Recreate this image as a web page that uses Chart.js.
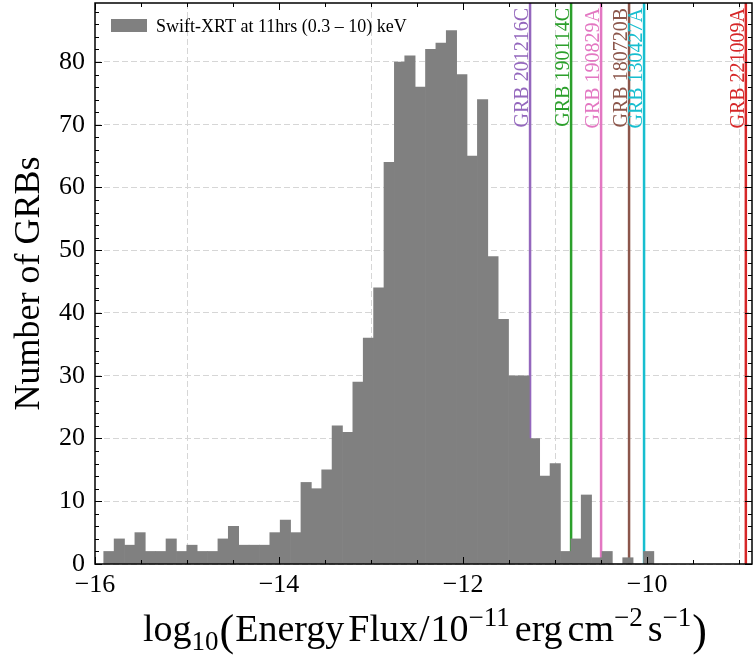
<!DOCTYPE html>
<html>
<head>
<meta charset="utf-8">
<script src="https://cdn.jsdelivr.net/npm/chart.js@4.4.0/dist/chart.umd.min.js"></script>
<style>
  html, body { margin: 0; padding: 0; background: #fff; }
  #wrap { width: 755px; height: 657px; }
</style>
</head>
<body>
<div id="wrap"><canvas id="fluxChart" width="755" height="657"></canvas></div>
<script>
// histogram bins (log10 flux), first edge and width
const binStart = -15.905;
const binWidth = 0.1128;
const counts = [2, 4, 3, 5, 2, 2, 4, 2, 3, 2,
                2, 4, 6, 3, 3, 3, 5, 7, 5, 13,
                12, 15, 22, 21, 29, 36, 44, 64, 80, 81,
                76, 82, 83, 85, 78, 65, 74, 49, 39, 30,
                30, 20, 14, 16, 2, 4, 11, 1, 2, 0,
                1, 0, 2];

// individual bursts marked with vertical lines
const grbNames = ["GRB 201216C", "GRB 190114C", "GRB 190829A", "GRB 180720B", "GRB 130427A", "GRB 221009A"];
const grbFlux = [-11.272, -10.826, -10.500, -10.196, -10.033, -8.927];
const grbColors = ["#9467bd", "#2ca02c", "#e377c2", "#8c564b", "#17becf", "#d62728"];

const xTickValues = [-16, -14, -12, -10];
const yTickValues = [0, 10, 20, 30, 40, 50, 60, 70, 80];
const xMin = -16, xMax = -8.86;
const yMin = 0, yMax = 89.4;

const legendLabel = "Swift-XRT at 11hrs (0.3 \u2013 10) keV";
const yTitle = "Number of GRBs";

const SERIF = '"Liberation Serif", "DejaVu Serif", serif';

function drawRich(ctx, parts, cx, baseline) {
    let total = 0;
    parts.forEach(p => {
        ctx.font = p.size + "px " + SERIF;
        p.w = ctx.measureText(p.text).width;
        total += p.w + (p.gap || 0);
    });
    let pos = cx - total / 2;
    ctx.textAlign = "left";
    ctx.textBaseline = "alphabetic";
    parts.forEach(p => {
        ctx.font = p.size + "px " + SERIF;
        ctx.fillText(p.text, pos, baseline + (p.dy || 0));
        pos += p.w + (p.gap || 0);
    });
}

const decorations = {
    id: "decorations",
    afterDatasetsDraw(chart) {
        const { ctx, chartArea: a, scales: { x } } = chart;
        // burst labels, rotated, left of each line
        ctx.save();
        ctx.font = "20px " + SERIF;
        grbNames.forEach((name, i) => {
            const px = x.getPixelForValue(grbFlux[i]);
            ctx.save();
            ctx.translate(px - 2, a.top + 5);
            ctx.rotate(-Math.PI / 2);
            ctx.fillStyle = grbColors[i];
            ctx.textAlign = "right";
            ctx.textBaseline = "alphabetic";
            ctx.fillText(name, 0, 0);
            ctx.restore();
        });
        ctx.restore();
    },
    afterDraw(chart) {
        const { ctx, chartArea: a, scales: { x, y } } = chart;
        ctx.save();
        ctx.strokeStyle = "#000";

        // inward ticks on all four sides
        ctx.lineWidth = 1;
        for (let v = -16; v <= xMax + 1e-9; v += 0.5) {
            const px = Math.round(x.getPixelForValue(v)) + 0.5;
            const len = (Math.abs(v % 2) < 1e-9) ? 7 : 4;
            ctx.beginPath();
            ctx.moveTo(px, a.bottom); ctx.lineTo(px, a.bottom - len);
            ctx.moveTo(px, a.top); ctx.lineTo(px, a.top + len);
            ctx.stroke();
        }
        for (let v = 0; v <= yMax + 1e-9; v += 2) {
            const py = Math.round(y.getPixelForValue(v)) + 0.5;
            const len = (v % 10 === 0) ? 7 : 4;
            ctx.beginPath();
            ctx.moveTo(a.left, py); ctx.lineTo(a.left + len, py);
            ctx.moveTo(a.right, py); ctx.lineTo(a.right - len, py);
            ctx.stroke();
        }

        // frame
        ctx.lineWidth = 1.5;
        ctx.strokeRect(a.left, a.top, a.right - a.left, a.bottom - a.top);

        // legend
        ctx.fillStyle = "#808080";
        ctx.fillRect(a.left + 16, a.top + 16, 36, 13);
        ctx.fillStyle = "#000";
        ctx.font = "18px " + SERIF;
        ctx.textAlign = "left";
        ctx.textBaseline = "alphabetic";
        ctx.fillText(legendLabel, a.left + 61, a.top + 29);

        // y title
        ctx.save();
        ctx.translate(30, (a.top + a.bottom) / 2);
        ctx.rotate(-Math.PI / 2);
        ctx.font = "36px " + SERIF;
        ctx.textAlign = "center";
        ctx.textBaseline = "middle";
        ctx.fillText(yTitle, 0, 0);
        ctx.restore();

        // x title with sub/superscripts
        drawRich(ctx, [
            { text: "log", size: 38 },
            { text: "10", size: 27, dy: 9, gap: 1 },
            { text: "(", size: 44, dy: 4, gap: 1 },
            { text: "Energy", size: 38, gap: 4 },
            { text: "Flux", size: 38, gap: 1 },
            { text: "/", size: 38, gap: 1 },
            { text: "10", size: 38 },
            { text: "\u221211", size: 27, dy: -15, gap: 5 },
            { text: "erg", size: 38, gap: 5 },
            { text: "cm", size: 38 },
            { text: "\u22122", size: 27, dy: -15, gap: 5 },
            { text: "s", size: 38 },
            { text: "\u22121", size: 27, dy: -15, gap: 1 },
            { text: ")", size: 44, dy: 4 }
        ], 425, 641);

        ctx.restore();
    }
};

const histData = counts.map((c, i) => ({ x: binStart + (i + 0.5) * binWidth, y: c }));

const lineSets = grbNames.map((name, i) => ({
    type: "line",
    label: name,
    data: [{ x: grbFlux[i], y: yMin }, { x: grbFlux[i], y: yMax }],
    borderColor: grbColors[i],
    borderWidth: 2.5,
    pointRadius: 0,
    fill: false
}));

new Chart(document.getElementById("fluxChart").getContext("2d"), {
    type: "bar",
    data: {
        datasets: [{
            type: "bar",
            label: legendLabel,
            data: histData,
            backgroundColor: "#808080",
            borderWidth: 0,
            barPercentage: 1,
            categoryPercentage: 1,
            grouped: false
        }, ...lineSets]
    },
    options: {
        responsive: false,
        animation: false,
        layout: { padding: { top: 3, right: 3, left: 0, bottom: 0 } },
        plugins: {
            legend: { display: false },
            tooltip: { enabled: false },
            title: { display: false }
        },
        scales: {
            x: {
                type: "linear",
                min: xMin,
                max: xMax,
                offset: false,
                afterFit: (scale) => {
                    scale.height = 93;
                    scale.paddingLeft = 0; scale.paddingRight = 0;
                },
                afterBuildTicks: (scale) => { scale.ticks = xTickValues.map(v => ({ value: v })); },
                grid: { color: "#d6d6d6", lineWidth: 1, drawTicks: false },
                border: { display: false, dash: [6, 3] },
                ticks: {
                    padding: 6,
                    color: "#000",
                    font: { family: SERIF, size: 26 },
                    maxRotation: 0,
                    callback: (v) => String(v).replace("-", "\u2212")
                }
            },
            y: {
                min: yMin,
                max: yMax,
                afterFit: (scale) => {
                    scale.width = 95;
                    scale.paddingTop = 0; scale.paddingBottom = 0;
                },
                afterBuildTicks: (scale) => { scale.ticks = yTickValues.map(v => ({ value: v })); },
                grid: { color: "#d6d6d6", lineWidth: 1, drawTicks: false },
                border: { display: false, dash: [6, 3] },
                ticks: {
                    padding: 10,
                    color: "#000",
                    font: { family: SERIF, size: 26 }
                }
            }
        }
    },
    plugins: [decorations]
});
</script>
</body>
</html>
